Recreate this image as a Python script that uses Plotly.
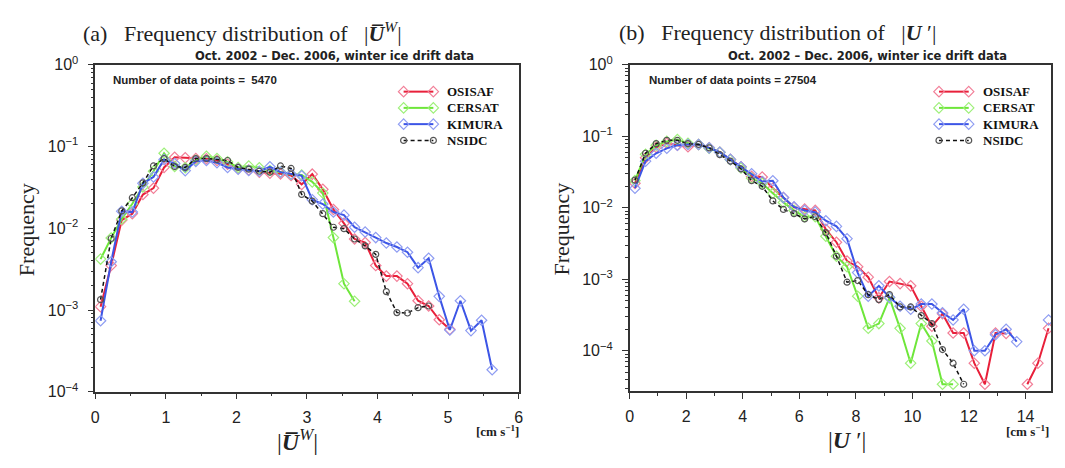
import plotly.graph_objects as go

# The page keeps the browser's default 8px body margin, so the figure is
# sized to fill the 1065x468 window exactly inside that margin.
PAGE_W, PAGE_H, OFF = 1065, 468, 8
W, H = PAGE_W - 2 * OFF, PAGE_H - 2 * OFF
def fx(p): return (p - OFF) / W          # page pixel -> paper x
def fy(p): return 1 - (p - OFF) / H      # page pixel -> paper y

# ---------------- data ----------------
a_x = [0.075, 0.225, 0.375, 0.525, 0.675, 0.825, 0.975, 1.125, 1.275, 1.425,
       1.575, 1.725, 1.875, 2.025, 2.175, 2.325, 2.475, 2.625, 2.775, 2.925,
       3.075, 3.225, 3.375, 3.525, 3.675, 3.825, 3.975, 4.125, 4.275, 4.425,
       4.575, 4.725, 4.875, 5.025, 5.175, 5.325, 5.475, 5.625]
a_osisaf = [0.0011, 0.0035, 0.0126, 0.0151, 0.0259, 0.031, 0.0556, 0.074, 0.0728, 0.0714,
            0.071, 0.0676, 0.0608, 0.054, 0.0517, 0.0487, 0.0473, 0.0464, 0.0443, 0.0345,
            0.046, 0.030, 0.017, 0.0115, 0.0074, 0.0067, 0.0035, 0.0026, 0.0026, 0.0021,
            0.0013, 0.00112, 0.00076, 0.00058]
a_cersat = [0.0042, 0.0076, 0.013, 0.02, 0.032, 0.05, 0.083, 0.057, 0.055, 0.068,
            0.076, 0.0714, 0.065, 0.0556, 0.058, 0.055, 0.051, 0.049, 0.046, 0.045,
            0.037, 0.027, 0.0077, 0.0021, 0.00128]
a_kimura = [0.00074, 0.0039, 0.0162, 0.0158, 0.0355, 0.0425, 0.0695, 0.062, 0.0508, 0.066,
            0.0676, 0.0636, 0.0556, 0.053, 0.051, 0.0499, 0.0565, 0.0487, 0.046, 0.044,
            0.0224, 0.0198, 0.0158, 0.0145, 0.0103, 0.009, 0.0077, 0.0066, 0.0059, 0.0051,
            0.0033, 0.0043, 0.00147, 0.00057, 0.0013, 0.00056, 0.00075, 0.000186]
a_nsidc = [0.00134, 0.0075, 0.0163, 0.0237, 0.036, 0.058, 0.0714, 0.057, 0.0556, 0.0714,
           0.0714, 0.0695, 0.0676, 0.0556, 0.053, 0.0499, 0.0487, 0.058, 0.054, 0.026,
           0.0215, 0.0151, 0.0103, 0.0099, 0.0074, 0.0061, 0.0048, 0.00168, 0.00093, 0.00092,
           0.00107, 0.00112]

b_x = [0.1875, 0.5625, 0.9375, 1.3125, 1.6875, 2.0625, 2.4375, 2.8125, 3.1875, 3.5625,
       3.9375, 4.3125, 4.6875, 5.0625, 5.4375, 5.8125, 6.1875, 6.5625, 6.9375, 7.3125,
       7.6875, 8.0625, 8.4375, 8.8125, 9.1875, 9.5625, 9.9375, 10.3125, 10.6875, 11.0625,
       11.4375, 11.8125, 12.1875, 12.5625, 12.9375, 13.3125, 13.6875, 14.0625, 14.4375, 14.8125]
b_osisaf = [0.022, 0.05, 0.07, 0.08, 0.075, 0.0716, 0.077, 0.069, 0.06, 0.0476,
            0.0375, 0.0275, 0.027, 0.0188, 0.0139, 0.0102, 0.0096, 0.0092, 0.005, 0.0033,
            0.0018, 0.0015, 0.00107, 0.00055, 0.00093, 0.00087, 0.00081, 0.00042, 0.00022, 0.00033,
            0.000177, 0.000177, 6.7e-5, 3.4e-5, 0.000177, 0.000175, None, 3.4e-5, 6.7e-5, 0.000206]
b_cersat = [0.024, 0.056, 0.075, 0.085, 0.09, 0.08, 0.077, 0.068, 0.06, 0.047,
            0.036, 0.026, 0.022, 0.016, 0.0119, 0.0092, 0.0075, 0.0075, 0.004, 0.0021,
            0.0015, 0.00058, 0.000206, 0.00024, 0.00055, 0.000206, 6.7e-5, 0.00024, 0.000137, 3.4e-5,
            3.4e-5]
b_kimura = [0.0188, 0.045, 0.058, 0.068, 0.075, 0.077, 0.077, 0.069, 0.06, 0.0476,
            0.0375, 0.03, 0.0233, 0.0239, 0.0139, 0.0103, 0.0092, 0.0087, 0.0066, 0.0055,
            0.0037, 0.00124, 0.00058, 0.00081, 0.00056, 0.00042, 0.00038, 0.00045, 0.00045, 0.00034,
            0.00027, 0.00038, 0.0001, 0.0001, 0.000168, 0.0002, 0.000134, None, None, 0.00027]
b_nsidc = [0.0244, 0.058, 0.079, 0.088, 0.088, 0.079, 0.077, 0.069, 0.0554, 0.045,
           0.035, 0.024, 0.02, 0.0125, 0.0095, 0.0083, 0.007, 0.0075, 0.0045, 0.0021,
           0.00091, 0.00096, 0.00061, 0.00052, 0.00061, 0.00041, 0.00041, 0.00031, 0.00024, 0.000104,
           6.7e-5, 3.4e-5]

series_names = ["OSISAF", "CERSAT", "KIMURA", "NSIDC"]
y_tickvals = [1, 0.1, 0.01, 0.001, 0.0001]
y_ticktext = ["10<sup>0</sup>", "10<sup>\u22121</sup>", "10<sup>\u22122</sup>",
              "10<sup>\u22123</sup>", "10<sup>\u22124</sup>"]
a_xticks = [0, 1, 2, 3, 4, 5, 6]
b_xticks = [0, 2, 4, 6, 8, 10, 12, 14]
n_points = ["5470", "27504"]

# ---------------- styles ----------------
line_cols = ["#e8203a", "#6ee63a", "#3c55e6", "#111111"]
mark_cols = ["#f27f98", "#9ef07a", "#8f9df2", "#555555"]
SERIF = "Liberation Serif, Times New Roman, serif"
SANS = "Liberation Sans, Arial, sans-serif"

def line_style(i):
    blk = (i == 3)
    return dict(color=line_cols[i], width=1.5 if blk else 2,
                dash="4px,3px" if blk else "solid")

def marker_style(i):
    blk = (i == 3)
    return dict(symbol="circle-open" if blk else "diamond-open",
                size=6 if blk else 8, color=mark_cols[i],
                line=dict(width=1.2, color=mark_cols[i]))

fig = go.Figure()

def add_series(xs, ys_list, xa, ya):
    for i, (name, ys) in enumerate(zip(series_names, ys_list)):
        fig.add_trace(go.Scatter(
            x=xs[:len(ys)], y=ys, name=name, mode="lines+markers",
            xaxis=xa, yaxis=ya, showlegend=False, connectgaps=False,
            line=line_style(i), marker=marker_style(i)))

add_series(a_x, [a_osisaf, a_cersat, a_kimura, a_nsidc], "x", "y")
add_series(b_x, [b_osisaf, b_cersat, b_kimura, b_nsidc], "x2", "y2")

# custom legend keys, drawn on an invisible page-pixel overlay axis
legend_rows = [84, 101, 118, 135]
ann = []
for lx0 in (403, 943):
    for i, name in enumerate(series_names):
        ry = legend_rows[i]
        fig.add_trace(go.Scatter(
            x=[lx0, lx0 + 30], y=[ry, ry], mode="lines+markers", xaxis="x3", yaxis="y3",
            showlegend=False, hoverinfo="skip", line=line_style(i), marker=marker_style(i)))
        ann.append(dict(x=fx(lx0 + 42), y=fy(ry), xref="paper", yref="paper",
                        text="<b>" + name + "</b>", showarrow=False,
                        xanchor="left", yanchor="middle",
                        font=dict(family=SERIF, size=13, color="#111")))

minor_y = [m * 10 ** e for e in range(-5, 0) for m in range(2, 10)]
axis_common = dict(showline=True, linecolor="#333", linewidth=1.5, mirror=True,
                   ticks="outside", tickcolor="#333", ticklen=6, tickwidth=1.2,
                   showgrid=False, zeroline=False,
                   tickfont=dict(family=SANS, size=16, color="#222"))

fig.update_layout(
    width=W, height=H, margin=dict(l=0, r=0, t=0, b=0),
    paper_bgcolor="white", plot_bgcolor="rgba(0,0,0,0)",
    xaxis=dict(domain=[fx(92), fx(519)], range=[0, 6], anchor="y",
               tickvals=a_xticks, ticktext=[str(v) for v in a_xticks],
               minor=dict(ticks="outside", ticklen=3, tickcolor="#333",
                          tickvals=[0.5, 1.5, 2.5, 3.5, 4.5, 5.5]),
               ticklabelstandoff=4, **axis_common),
    yaxis=dict(domain=[fy(398), fy(56)], type="log", range=[-4, 0], anchor="x",
               tickvals=y_tickvals, ticktext=y_ticktext,
               minor=dict(ticks="outside", ticklen=3, tickcolor="#333", tickvals=minor_y),
               ticklabelstandoff=6, **axis_common),
    xaxis2=dict(domain=[fx(631), fx(1056)], range=[0, 14.9], anchor="y2",
                tickvals=b_xticks, ticktext=[str(v) for v in b_xticks],
                minor=dict(ticks="outside", ticklen=3, tickcolor="#333",
                           tickvals=[1, 3, 5, 7, 9, 11, 13]),
                ticklabelstandoff=4, **axis_common),
    yaxis2=dict(domain=[fy(397), fy(56)], type="log", range=[-4.56, 0], anchor="x2",
                tickvals=y_tickvals, ticktext=y_ticktext,
                minor=dict(ticks="outside", ticklen=3, tickcolor="#333", tickvals=minor_y),
                ticklabelstandoff=6, **axis_common),
    xaxis3=dict(domain=[0, 1], range=[OFF, OFF + W], visible=False, anchor="y3", fixedrange=True),
    yaxis3=dict(domain=[0, 1], range=[OFF + H, OFF], visible=False, anchor="x3", fixedrange=True),
    showlegend=False,
)

titles = [
    (78, "(a)\u00a0\u00a0\u00a0Frequency distribution of\u00a0\u00a0\u00a0|<b><i>U\u0305</i></b><sup><i>W</i></sup>|"),
    (618, "(b)\u00a0\u00a0\u00a0Frequency distribution of\u00a0\u00a0\u00a0|<b><i>U</i></b>\u00a0\u2032|"),
]
for x0, t in titles:
    ann.append(dict(x=fx(x0), y=fy(22), xref="paper", yref="paper", text=t,
                    showarrow=False, xanchor="left", yanchor="middle",
                    font=dict(family=SERIF, size=22, color="#222")))
for xr in (476, 1014):
    ann.append(dict(x=fx(xr), y=fy(47), xref="paper", yref="paper",
                    text="<b>Oct. 2002 \u2013 Dec. 2006, winter ice drift data</b>",
                    showarrow=False, xanchor="right", yanchor="middle",
                    font=dict(family="DejaVu Sans, sans-serif", size=11.5, color="#222")))
for x0, n in zip((108, 648), n_points):
    ann.append(dict(x=fx(x0), y=fy(72), xref="paper", yref="paper",
                    text="<b>Number of data points = " + ("\u00a0" if len(n) < 5 else "") + n + "</b>",
                    showarrow=False, xanchor="left", yanchor="middle",
                    font=dict(family=SANS, size=11.5, color="#222")))
for xc in (22, 562):
    ann.append(dict(x=fx(xc), y=fy(228), xref="paper", yref="paper", text="Frequency",
                    textangle=-90, showarrow=False, xanchor="center", yanchor="middle",
                    font=dict(family=SERIF, size=22, color="#222")))
ann.append(dict(x=fx(296), y=fy(448), xref="paper", yref="paper",
                text="|<b><i>U\u0305</i></b><sup><i>W</i></sup>|", showarrow=False,
                xanchor="center", yanchor="middle",
                font=dict(family=SERIF, size=24, color="#222")))
ann.append(dict(x=fx(850), y=fy(448), xref="paper", yref="paper",
                text="|<b><i>U</i></b>\u00a0\u2032|", showarrow=False,
                xanchor="center", yanchor="middle",
                font=dict(family=SERIF, size=24, color="#222")))
for xr in (521, 1056):
    ann.append(dict(x=fx(xr), y=fy(439), xref="paper", yref="paper",
                    text="<b>[cm s<sup>\u22121</sup>]</b>", showarrow=False,
                    xanchor="right", yanchor="middle",
                    font=dict(family=SERIF, size=13, color="#222")))
fig.update_layout(annotations=ann)

fig.write_html("out.html", config={"displayModeBar": False})
